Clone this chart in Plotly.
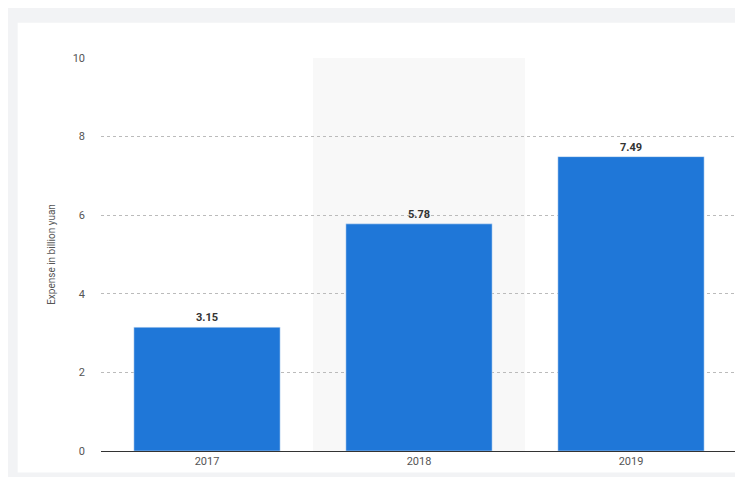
import plotly.graph_objects as go

years = ["2017", "2018", "2019"]
expense = [3.15, 5.78, 7.49]
labels = ["3.15", "5.78", "7.49"]

fig = go.Figure()
fig.add_trace(go.Bar(
    x=years, y=expense, text=labels, textposition="outside",
    marker_color="#1f77d8", width=0.69,
    textfont=dict(family="Roboto", size=11, color="#333333", weight="bold"),
    cliponaxis=False,
))

# light highlight band behind the middle column
fig.add_shape(type="rect", xref="x", yref="paper", x0=0.5, x1=1.5, y0=0, y1=1,
              fillcolor="#f8f8f8", line_width=0, layer="below")
# grey page edges around the white card
edge = "#f2f3f5"
fig.add_shape(type="rect", xref="paper", yref="paper", x0=-0.2, x1=1.1, y0=1.09, y1=1.2,
              fillcolor=edge, line_width=0, layer="below")
fig.add_shape(type="rect", xref="paper", yref="paper", x0=-0.2, x1=-0.131, y0=-0.2, y1=1.2,
              fillcolor=edge, line_width=0, layer="below")
fig.add_shape(type="rect", xref="paper", yref="paper", x0=-0.2, x1=1.1, y0=-0.2, y1=-0.055,
              fillcolor=edge, line_width=0, layer="below")

fig.update_layout(
    width=743, height=477,
    margin=dict(l=93, r=14, t=50, b=34),
    paper_bgcolor="white", plot_bgcolor="white",
    showlegend=False,
    font=dict(family="Roboto", size=11, color="#555555"),
)
fig.update_xaxes(showline=True, linecolor="#333333", linewidth=1, ticks="", showgrid=False,
                 automargin=False)
fig.update_yaxes(range=[0, 10], dtick=2, showgrid=True, gridcolor="#bbbbbb", griddash="dot",
                 zeroline=False, title=dict(text="Expense in billion yuan", font=dict(size=10)),
                 ticklabelstandoff=15, automargin=False)
fig.write_html("out.html")
